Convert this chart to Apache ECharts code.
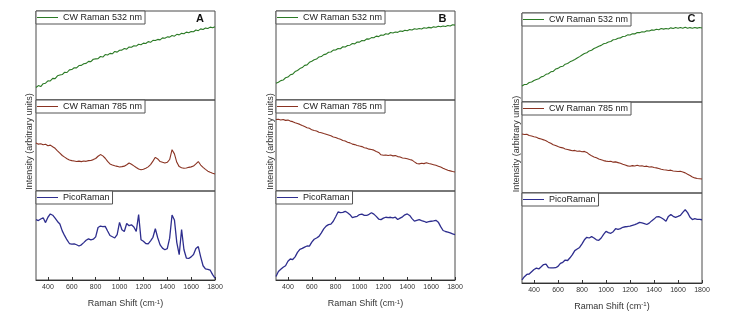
<!DOCTYPE html>
<html>
<head>
<meta charset="utf-8">
<script src="https://cdn.jsdelivr.net/npm/echarts@6/dist/echarts.min.js"></script>
<style>html,body{margin:0;padding:0;background:#fff}#c{width:730px;height:321px}</style>
</head>
<body>
<div id="c"></div>
<script>
// Raman shift grid (cm-1)
const ramanShift = [300,320,340,360,380,400,420,440,460,480,500,520,540,560,580,600,620,640,660,680,700,720,740,760,780,800,820,840,860,880,900,920,940,960,980,1000,1020,1040,1060,1080,1100,1120,1140,1160,1180,1200,1220,1240,1260,1280,1300,1320,1340,1360,1380,1400,1420,1440,1460,1480,1500,1520,1540,1560,1580,1600,1620,1640,1660,1680,1700,1720,1740,1760,1780,1800];
const xTickValues = [400,600,800,1000,1200,1400,1600,1800];
const seriesNames = ['CW Raman 532 nm','CW Raman 785 nm','PicoRaman'];
const panelLetters = ['A','B','C'];

// intensities (arbitrary units, 0-100 within each stacked sub-panel)
const cw532A = [14.0,16.2,15.1,18.3,18.9,21.5,21.4,24.3,24.0,27.2,28.0,28.6,31.2,30.9,33.8,34.2,36.3,36.1,38.7,38.9,40.8,41.2,43.4,43.1,45.8,46.2,46.4,48.9,48.3,51.1,50.6,52.4,51.9,54.6,53.8,55.9,56.0,57.8,57.2,59.6,59.2,60.9,60.6,62.7,62.1,63.9,63.5,65.6,64.8,67.0,66.8,68.1,67.6,69.8,69.3,70.9,70.6,72.5,71.7,73.8,73.2,74.9,74.4,76.3,75.6,77.0,76.7,78.6,77.9,79.9,79.2,80.8,80.3,81.9,81.2,82.3];
const cw785A = [52.7,51.5,52.0,50.9,51.3,49.8,50.4,48.6,46.9,44.2,41.6,39.0,37.2,35.5,34.0,33.4,33.0,32.4,32.8,32.3,33.0,32.6,33.4,33.6,34.5,35.7,38.2,40.0,38.6,36.0,32.5,29.8,28.6,27.7,27.1,26.4,26.8,27.3,28.9,30.8,29.4,27.6,25.8,24.1,23.3,24.0,25.1,26.5,29.0,32.8,37.0,35.2,32.4,31.6,30.8,31.5,34.6,45.4,40.8,31.5,26.8,25.6,25.0,25.3,26.0,26.5,27.4,29.8,32.4,28.5,26.0,23.8,21.8,20.6,19.6,18.7];
const picoA = [67.8,66.8,68.5,70.0,64.5,70.5,74.2,72.8,69.5,65.8,63.0,55.2,49.8,45.0,41.0,40.2,40.6,39.6,38.2,39.5,42.0,44.6,46.2,45.0,45.8,48.5,59.0,60.6,60.0,60.3,55.0,50.0,48.6,47.2,51.0,64.8,56.5,54.5,63.5,61.0,62.0,59.5,54.7,73.6,45.3,43.5,41.0,40.6,44.0,48.0,57.6,47.5,39.5,35.8,34.0,35.2,47.0,73.0,67.5,42.0,28.4,56.7,34.0,24.7,24.2,26.0,28.6,35.5,37.5,26.0,16.0,12.4,12.0,11.0,6.0,2.2];

const cw532B = [18.8,19.9,21.8,22.4,25.0,25.8,28.3,29.1,32.0,33.2,35.3,36.4,38.9,39.5,42.4,43.6,45.3,46.0,48.4,48.8,51.0,51.5,53.6,53.9,56.0,56.1,57.9,57.6,59.8,59.6,61.3,61.6,63.5,63.1,65.2,65.0,66.8,66.6,68.7,68.4,70.1,69.9,71.8,71.2,73.1,72.8,74.4,73.9,75.8,75.2,76.4,76.0,77.6,77.1,78.4,77.9,79.1,78.6,80.0,79.4,80.3,79.8,81.1,80.6,81.6,81.0,82.2,81.7,82.9,82.2,83.1,82.6,83.8,83.2,84.6,84.1];
const cw785B = [78.5,78.9,78.0,78.6,77.6,77.9,76.8,76.2,75.0,74.1,73.2,71.9,70.8,69.6,68.9,67.2,66.4,65.9,64.5,64.0,63.1,62.3,61.5,60.7,59.3,58.8,57.6,56.8,55.5,54.9,53.6,52.9,51.5,51.0,50.1,49.4,48.8,47.6,47.1,46.0,45.6,44.9,43.5,42.4,39.8,39.2,39.6,39.0,39.5,38.6,38.9,37.8,37.3,36.2,36.0,35.4,34.6,33.9,32.0,30.2,29.8,30.5,30.1,31.0,30.2,29.6,28.9,28.2,27.3,26.4,25.1,23.9,22.8,22.1,21.4,20.9];
const picoB = [4.0,9.5,12.0,14.3,16.0,21.0,23.6,23.0,26.0,31.0,34.5,35.5,37.0,38.2,38.0,42.5,45.8,47.2,49.0,53.0,57.5,60.5,62.2,62.8,66.0,71.0,76.4,75.8,76.0,77.2,75.5,73.4,70.0,70.8,71.6,73.5,74.0,72.7,72.5,73.8,75.6,74.0,71.5,68.5,67.8,69.5,70.5,70.0,70.5,69.8,70.6,68.0,69.5,71.0,73.2,74.2,72.5,69.0,66.2,67.0,67.8,66.8,66.0,64.8,65.5,66.0,66.5,67.1,65.0,60.0,55.6,54.5,53.9,53.0,51.8,50.9];

const cw532C = [18.0,19.6,19.8,21.9,22.4,24.2,25.3,26.1,28.2,29.0,31.1,31.8,33.9,34.4,37.0,37.8,39.6,40.1,42.5,43.2,45.1,46.3,47.8,49.4,51.0,52.8,54.5,55.3,57.4,58.2,60.1,61.2,62.7,63.6,65.4,66.1,67.5,68.0,69.9,70.3,71.7,72.0,73.6,73.8,75.4,75.3,76.6,76.5,78.1,77.9,78.9,78.7,80.1,79.7,81.0,80.6,81.8,81.2,82.5,81.9,82.6,82.0,83.3,82.5,83.6,82.8,83.7,82.9,83.9,82.8,83.6,82.9,83.8,83.0,83.7,83.2];
const cw785C = [64.8,64.2,64.6,63.1,62.7,61.9,61.2,60.0,59.3,58.4,57.4,55.9,54.7,53.1,52.3,51.0,50.1,49.6,48.4,47.8,47.1,46.4,46.8,45.9,46.2,45.4,45.7,44.6,42.5,40.8,39.6,38.7,37.4,36.5,35.6,35.0,34.6,34.9,33.9,34.2,33.4,32.6,31.5,30.7,29.8,29.4,30.1,29.6,30.4,29.7,29.9,29.2,29.5,28.6,28.9,28.0,27.6,27.0,26.1,25.6,25.3,24.8,25.1,24.2,23.9,23.6,23.8,23.0,22.1,20.6,19.2,17.6,16.6,16.0,15.7,15.4];
const picoC = [3.5,7.0,9.5,10.0,12.5,15.0,16.5,15.6,18.0,20.5,21.0,17.0,16.8,16.7,17.0,18.5,21.8,23.0,25.5,25.0,28.0,31.5,36.0,37.8,39.5,43.5,48.0,50.8,50.0,51.5,50.0,48.0,47.4,50.0,54.0,57.4,56.0,55.2,57.0,60.3,59.5,60.5,61.9,62.5,62.8,63.2,64.0,64.8,66.0,67.4,66.8,66.0,65.0,66.5,69.0,71.0,73.5,73.8,72.5,70.8,68.6,74.0,76.2,74.1,73.0,74.0,75.2,78.5,81.4,78.2,73.0,70.5,71.4,70.8,70.6,70.3];

const panelData = [[cw532A, cw785A, picoA],[cw532B, cw785B, picoB],[cw532C, cw785C, picoC]];
const colors = ['#2b7a25', '#8a3322', '#2e2e8e'];
const widths = [1.1, 1.1, 1.3];
const FONT = '"Liberation Sans", Arial, sans-serif';

// layout
const panels = [
  {left: 36, width: 179, tops: [11, 100, 191], bottom: 280, ytx: 30, yty: 141.5, xtx: 125.5, xty: 304, lx: 200, ly: 19},
  {left: 276, width: 179, tops: [11, 100, 191], bottom: 280, ytx: 270.5, yty: 141.5, xtx: 365.5, xty: 304, lx: 442.5, ly: 19},
  {left: 522, width: 180, tops: [13, 102, 193], bottom: 283, ytx: 516.5, yty: 144, xtx: 612, xty: 306.5, lx: 691.5, ly: 19}
];

const grid = [], xAxis = [], yAxis = [], series = [], legend = [], graphic = [];
panels.forEach((p, pi) => {
  for (let s = 0; s < 3; s++) {
    const top = p.tops[s];
    const bot = s < 2 ? p.tops[s + 1] : p.bottom;
    const gi = grid.length;
    grid.push({left: p.left, top: top, width: p.width, height: bot - top, show: true, borderColor: '#4a4a4a', borderWidth: 1, backgroundColor: 'transparent'});
    const isBottom = s === 2;
    xAxis.push({
      type: 'value', gridIndex: gi, min: 300, max: 1800, show: isBottom,
      axisLine: {show: true, lineStyle: {color: '#333', width: 1}},
      axisTick: {show: true, inside: true, length: 3, customValues: xTickValues, lineStyle: {color: '#333'}},
      axisLabel: {show: true, customValues: xTickValues, fontSize: 7, color: '#333', fontFamily: FONT, margin: 4,
        formatter: v => String(v)},
      splitLine: {show: false}
    });
    yAxis.push({type: 'value', gridIndex: gi, min: 0, max: 100, show: false, splitLine: {show: false}});
    const vals = panelData[pi][s];
    series.push({
      type: 'line', name: seriesNames[s], xAxisIndex: gi, yAxisIndex: gi,
      data: ramanShift.map((x, k) => [x, vals[k]]),
      showSymbol: false, symbol: 'none', smooth: false,
      lineStyle: {color: colors[s], width: widths[s]},
      itemStyle: {color: colors[s]},
      silent: true
    });
    legend.push({
      data: [{name: seriesNames[s], icon: 'rect'}], left: p.left, top: top, orient: 'horizontal',
      selectedMode: false, itemWidth: 21, itemHeight: 1, padding: [2, 3, 2, 1],
      borderColor: '#555', borderWidth: 1, backgroundColor: '#fff',
      itemStyle: {color: colors[s], borderWidth: 0},
      textStyle: {fontSize: 9, fontFamily: FONT, color: '#222'}
    });
  }
  graphic.push({type: 'text', x: p.ytx, y: p.yty, rotation: Math.PI / 2,
    style: {text: 'Intensity (arbitrary units)', font: '9px ' + FONT, fill: '#333', align: 'center', verticalAlign: 'middle'}});
  graphic.push({type: 'text', x: p.xtx, y: p.xty,
    style: {text: 'Raman Shift (cm{s|-1})', font: '9px ' + FONT, fill: '#333', align: 'center', verticalAlign: 'middle',
      rich: {s: {fontSize: 6, fontFamily: FONT, fill: '#333', verticalAlign: 'top', padding: [0, 0, 4, 0]}}}});
  graphic.push({type: 'text', x: p.lx, y: p.ly,
    style: {text: panelLetters[pi], font: 'bold 11px ' + FONT, fill: '#111', align: 'center', verticalAlign: 'middle'}});
});

const chart = echarts.init(document.getElementById('c'), null, {renderer: 'canvas'});
chart.setOption({
  backgroundColor: '#fff', animation: false,
  grid, xAxis, yAxis, series, legend, graphic
});
</script>
</body>
</html>
